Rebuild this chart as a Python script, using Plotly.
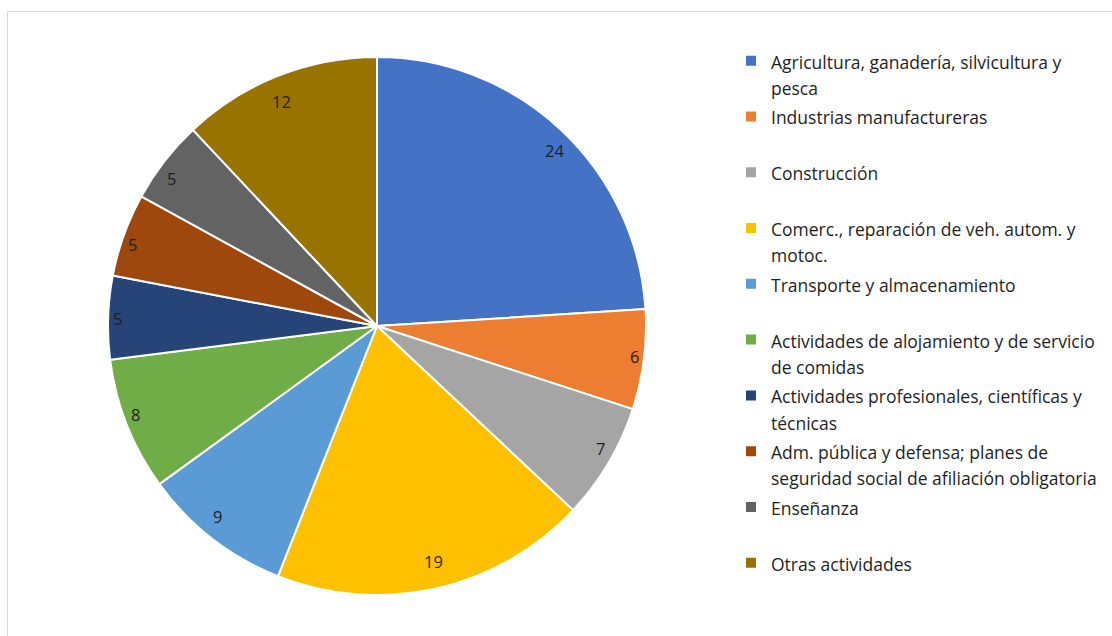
import math
import plotly.graph_objects as go

# Sector shares (percent) and their labels
sectores = [
    "Agricultura, ganadería, silvicultura y<br>pesca",
    "Industrias manufactureras",
    "Construcción",
    "Comerc., reparación de veh. autom. y<br>motoc.",
    "Transporte y almacenamiento",
    "Actividades de alojamiento y de servicio<br>de comidas",
    "Actividades profesionales, científicas y<br>técnicas",
    "Adm. pública y defensa; planes de<br>seguridad social de afiliación obligatoria",
    "Enseñanza",
    "Otras actividades",
]
valores = [24, 6, 7, 19, 9, 8, 5, 5, 5, 12]
colores = ["#4472C4", "#ED7D31", "#A5A5A5", "#FFC000", "#5B9BD5",
           "#70AD47", "#264478", "#9E480E", "#636363", "#997300"]

W, H = 1112, 636
CX, CY, R = 377, 326, 269  # pie centre and radius in pixels
LRX, LRY = 260, 241        # label ring radii in pixels

FONT = "Open Sans"
TXT = "#1f1f1f"


def legend_label(s):
    # every entry takes two lines so the legend rows are evenly spaced
    if "<br>" not in s:
        s = s + "<br> "
    parts = s.split("<br>")
    return "<br>".join('<span style="font-size:17.5px">%s</span>' % p for p in parts)


fig = go.Figure(go.Pie(
    labels=[legend_label(s) for s in sectores],
    values=valores,
    sort=False,
    direction="clockwise",
    rotation=0,
    marker=dict(colors=colores, line=dict(color="white", width=2)),
    textinfo="none",
    hoverinfo="label+value",
    domain=dict(x=[(CX - R) / W, (CX + R) / W],
                y=[1 - (CY + R) / H, 1 - (CY - R) / H]),
))

# value labels placed near the outer edge of each slice
total = sum(valores)
acum = 0
for v in valores:
    mid = (acum + v / 2) / total * 2 * math.pi
    acum += v
    px = CX + LRX * math.sin(mid)
    py = CY - LRY * math.cos(mid)
    fig.add_annotation(x=px / W, y=1 - py / H, xref="paper", yref="paper",
                       xanchor="center", yanchor="middle",
                       text=str(v), showarrow=False,
                       font=dict(family=FONT, size=16.5, color=TXT))

# light chart-area frame
fig.add_shape(type="rect", xref="paper", yref="paper",
              x0=7.5 / W, x1=1.02, y0=-0.02, y1=1 - 11.5 / H,
              line=dict(color="#D9D9D9", width=1), fillcolor="rgba(0,0,0,0)")

fig.update_layout(
    width=W, height=H,
    margin=dict(l=0, r=0, t=0, b=0),
    paper_bgcolor="white",
    plot_bgcolor="white",
    showlegend=True,
    legend=dict(
        x=731 / W, xanchor="left",
        y=1 - 41 / H, yanchor="top",
        font=dict(family=FONT, size=20.3, color=TXT),
        valign="top",
        bgcolor="rgba(0,0,0,0)",
        traceorder="normal",
    ),
    font=dict(family=FONT, color=TXT),
)

fig.write_html("out.html")
